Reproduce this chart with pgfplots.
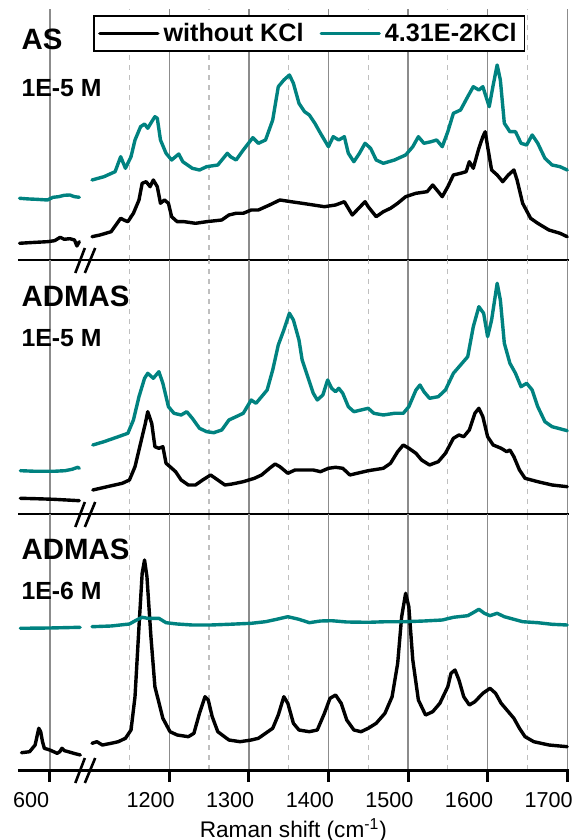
\documentclass[border=0pt]{standalone}
\usepackage{fontspec}
\setmainfont{Liberation Sans}
\usepackage{pgfplots}
\pgfplotsset{compat=1.18}
\definecolor{tealc}{RGB}{0,130,128}
\pgfplotsset{
  panel/.style={
    scale only axis, width=275.4pt,
    xmin=1010, xmax=1702, ymin=0,
    axis x line*=bottom, axis y line=none,
    ytick=\empty,
    xtick={1050,1200,1300,1400,1500,1600,1700},
    minor xtick={1150,1250,1350,1450,1550,1650},
    xmajorgrids, xminorgrids,
    major grid style={black!45, line width=0.7pt},
    minor grid style={black!25, line width=0.6pt, dash pattern=on 2.5pt off 2.5pt},
    minor tick length=0pt,
    x axis line style={-, black, line width=1pt},
    clip mode=individual,
    /pgf/number format/assume math mode=true,
  },
  spec/.style={line width=1.7pt, line join=round, line cap=round},
}
\newcommand{\brk}{%
  \draw[line width=1.3pt] ([yshift=-6.5pt]axis cs:1082,0) -- ([yshift=6pt]axis cs:1094,0);
  \draw[line width=1.3pt] ([yshift=-6.5pt]axis cs:1094,0) -- ([yshift=6pt]axis cs:1107,0);}
\newcommand{\biglab}{\bfseries\fontsize{14.7}{16}\selectfont}
\newcommand{\smllab}{\bfseries\fontsize{12.4}{14}\selectfont}
\begin{document}
\begin{tikzpicture}
% ---------------- Panel 1: AS 1E-5 M
\begin{axis}[panel, at={(0pt,255pt)}, anchor=south west, height=125.5pt, ymax=251,
  major tick length=0pt, xticklabels=\empty,
  legend columns=2,
  legend style={at={(0.529,1)}, anchor=north, yshift=-3pt, draw=black, line width=0.8pt, fill=white,
    font=\bfseries\fontsize{12.6}{14}\selectfont, inner xsep=2pt, inner ysep=1.5pt,
    /tikz/every even column/.append style={column sep=6pt}},
  legend image code/.code={\draw[#1] (0pt,0pt) -- (29pt,0pt);},
]
\addplot[spec, black] table[x=x,y=y] {
x y
1103 23.3
1113 25
1127 28.3
1139 41.7
1143 40
1148 38.3
1155 46.7
1162 60
1166 76.7
1171 78.3
1176 73.3
1180 80
1185 73.3
1189 56.7
1194 60
1199 56.7
1203 43.3
1210 38.3
1219 38.3
1233 36.7
1247 38.3
1266 40
1275 45
1284 46.7
1293 46.7
1303 50
1312 50
1326 55
1339 60
1353 58.3
1367 56.7
1381 55
1395 53.3
1409 55
1420 58.3
1430 45
1436 50
1446 58.3
1450 53.3
1460 43.3
1469 48.3
1478 51.7
1487 56.7
1497 63.3
1510 66.7
1524 68.3
1531 75
1538 68.3
1543 63.3
1550 73.3
1557 85
1566 86.7
1573 88.3
1577 98.3
1582 91.7
1589 111.7
1594 123.3
1597 128.3
1600 113.3
1605 90
1612 85
1619 78.3
1626 85
1633 90
1637 80
1644 56.7
1654 41.7
1663 36.7
1677 30
1691 26.7
1700 23.3
};
\addlegendentry{without KCl}
\addplot[spec, tealc] table[x=x,y=y] {
x y
1103 80
1118 83.3
1132 88.3
1139 103.3
1145 91.7
1152 103.3
1157 120
1164 133.3
1169 136
1173 131.7
1178 138.3
1182 143.3
1185 141.7
1189 120
1196 106.7
1203 100
1212 106
1217 98.3
1229 91.7
1238 90
1247 93.3
1261 95
1273 106.7
1277 103.3
1284 100
1293 110
1305 122.3
1312 116.7
1321 120
1330 140
1337 173.3
1344 180
1351 185
1356 176.7
1363 156.7
1370 148.3
1376 145
1383 136.7
1390 126.7
1400 113.3
1406 123.3
1413 120
1420 123.3
1425 106.7
1432 98.3
1439 106.7
1446 116.7
1453 111.7
1460 100
1469 96.7
1483 100
1497 105
1506 113.3
1513 123.3
1520 116.7
1529 118.3
1536 120
1543 113.3
1550 128.3
1557 146.7
1566 150
1575 163.3
1582 173.3
1589 170
1594 173.3
1598 163.3
1602 153.3
1607 175
1612 195
1616 180
1621 136.7
1628 128.3
1635 128.3
1642 116.7
1649 115
1656 125
1663 116.7
1672 101.7
1681 95
1691 93.3
1700 90
};
\addlegendentry{4.31E-2KCl}
\addplot[spec, black, forget plot] table[x expr=\thisrow{x}+450, y=y] {
x y
562 16.7
574 17.3
583 17.7
597 18.3
606 19.3
613 22.7
618 20.7
625 21.3
631 20
634 14
637 18.3
};
\addplot[spec, tealc, forget plot] table[x expr=\thisrow{x}+450, y=y] {
x y
562 61.7
574 61
583 60.7
597 60
604 62.7
611 63.3
618 64.7
625 65
631 63.3
637 62.7
};
\brk
\node[anchor=base west, inner sep=0pt, font=\biglab] at (axis cs:1014,210) {AS};
\node[anchor=base west, inner sep=0pt, font=\smllab] at (axis cs:1014,163) {1E-5 M};
\end{axis}
% ---------------- Panel 2: ADMAS 1E-5 M
\begin{axis}[panel, at={(0pt,128pt)}, anchor=south west, height=127pt, ymax=254,
  major tick length=0pt, xticklabels=\empty]
\addplot[spec, black] table[x=x,y=y] {
x y
1104 24
1122 27.3
1141 30.7
1150 34
1157 47.3
1164 70.7
1170 90.7
1173 102.3
1178 90.7
1182 67.3
1187 65.7
1192 67.3
1196 50.7
1201 47.3
1208 42.3
1215 34
1224 29
1233 29
1242 34
1252 39
1261 34
1270 29
1279 30
1293 32.3
1307 35.7
1316 39
1326 45.7
1333 50
1339 47.3
1349 40.7
1358 44
1367 44
1381 44
1390 42.3
1400 45.7
1409 46.7
1418 45.7
1427 39
1436 40.7
1450 43.3
1469 45.7
1478 50.7
1487 62.3
1494 69
1501 65.7
1510 60.7
1517 54
1527 49
1538 52.3
1547 60.7
1557 75.7
1564 79
1570 77.3
1577 84
1584 100.7
1589 105.7
1594 97.3
1600 77.3
1607 69
1617 65.7
1624 62.3
1628 64
1633 57.3
1640 44
1647 35.7
1663 32.3
1681 29
1700 27.3
};
\addplot[spec, tealc] table[x=x,y=y] {
x y
1104 69
1118 72.3
1136 77.3
1148 80.7
1155 94
1162 117.3
1169 135.7
1173 140.7
1180 135.7
1187 142.3
1192 130.7
1199 107.3
1206 100.7
1215 99
1222 102.3
1229 95.7
1238 85.7
1247 82.3
1256 81.3
1266 84
1275 94
1284 97.3
1293 100.7
1303 114
1309 110.7
1316 117.3
1323 124
1330 144
1337 169
1344 184
1351 200.7
1356 194
1363 174
1367 154
1374 137.3
1381 120.7
1386 114
1393 119
1399 134
1404 125.7
1409 122.3
1413 125.7
1418 120.7
1425 107.3
1432 102.3
1441 104
1450 105.7
1457 100.7
1469 99
1483 100.7
1494 100.7
1501 107.3
1510 124
1515 129
1520 122.3
1527 115.7
1538 117.3
1547 124
1557 140.7
1566 149
1575 157.3
1582 187.3
1589 207.3
1595 200.7
1600 177.3
1605 194
1612 230.7
1616 214
1621 170.7
1628 150.7
1635 140.7
1642 127.3
1649 130.7
1656 124
1663 107.3
1672 92.3
1681 87.3
1700 83.3
};
\addplot[spec, black] table[x expr=\thisrow{x}+450, y=y] {
x y
563 15.7
582 15.3
605 14.7
637 13.3
};
\addplot[spec, tealc] table[x expr=\thisrow{x}+450, y=y] {
x y
563 43.3
582 42.7
605 42.7
619 43.3
628 44.7
635 46.7
637 45.7
};
\brk
\node[anchor=base west, inner sep=0pt, font=\biglab] at (axis cs:1014,207) {ADMAS};
\node[anchor=base west, inner sep=0pt, font=\smllab] at (axis cs:1014,167) {1E-5 M};
\end{axis}
% ---------------- Panel 3: ADMAS 1E-6 M
\begin{axis}[panel, at={(0pt,0pt)}, anchor=south west, height=128pt, ymax=256,
  x axis line style={line width=1.5pt},
  tick align=outside, major tick length=6pt,
  major tick style={black, line width=1.5pt},
  xticklabels={600,1200,1300,1400,1500,1600,1700},
  xticklabel style={font=\fontsize{10.8}{12}\selectfont, yshift=-1.5pt, xshift=-9.3pt},
  xlabel={Raman shift (cm\textsuperscript{-1})},
  xlabel style={at={(axis description cs:0.5,0)}, anchor=base, yshift=-33.5pt, font=\fontsize{11.3}{13}\selectfont},
]
\addplot[spec, black] table[x=x,y=y] {
x y
1103 26.7
1109 28.3
1116 25
1127 26.7
1136 28.3
1145 31.7
1152 40
1157 73.3
1162 143.3
1166 196.7
1169 210
1172 193.3
1177 133.3
1182 83.3
1192 51.7
1201 38.3
1210 35
1224 33.3
1231 36.7
1238 56.7
1245 73.3
1249 70
1254 53.3
1261 38.3
1275 30
1289 28.3
1303 30
1312 31.7
1321 36.7
1330 41.7
1337 55
1344 73.3
1349 66.7
1356 46.7
1363 40
1376 38.3
1386 40
1395 56.7
1402 71.7
1409 75
1416 66.7
1423 50
1432 40
1441 38.3
1450 41.7
1460 46.7
1471 56.7
1480 73.3
1487 106.7
1492 153.3
1497 176.7
1501 163.3
1506 110
1513 70
1522 55
1531 58.3
1540 66.7
1550 83.3
1554 96.7
1559 100
1564 90
1570 73.3
1577 65
1584 68.3
1594 76.7
1603 81.7
1610 76.7
1617 66.7
1626 58.3
1633 51.7
1640 41.7
1647 33.3
1658 28.3
1677 25
1700 23.3
};
\addplot[spec, tealc] table[x=x,y=y] {
x y
1103 143.3
1127 144
1150 146
1159 150
1166 152.7
1173 151.7
1187 151.7
1196 147.3
1210 146
1229 145
1252 145
1275 145.7
1303 146.7
1321 148.3
1335 150.7
1349 153.3
1363 150.7
1376 147.3
1390 149
1404 149.3
1423 148
1450 147.7
1473 148.3
1497 148.3
1520 149
1543 150
1557 152.7
1575 154.3
1584 158.3
1589 160.7
1596 156.7
1603 154.3
1612 156.7
1621 153.3
1633 150.7
1644 148.3
1663 147.3
1681 145.7
1700 145
};
\addplot[spec, black] table[x expr=\thisrow{x}+450, y=y] {
x y
564.4 17.3
574.6 18.3
581.5 25
583.8 33.3
586.1 41.7
588.5 38.3
590.8 28.3
593.1 21.7
600 20
609.2 16.7
612.5 18.3
615.2 21.7
618.5 19.3
623.1 18.3
630 16.7
638.3 15
};
\addplot[spec, tealc] table[x expr=\thisrow{x}+450, y=y] {
x y
563 141.7
600 142
638 142.7
};
\brk
\node[anchor=base west, inner sep=0pt, font=\biglab] at (axis cs:1014,210) {ADMAS};
\node[anchor=base west, inner sep=0pt, font=\smllab] at (axis cs:1014,170) {1E-6 M};
\end{axis}
\pgfresetboundingbox
\path[use as bounding box] (-9pt,-35pt) rectangle (279.5pt,385pt);
\end{tikzpicture}
\end{document}
